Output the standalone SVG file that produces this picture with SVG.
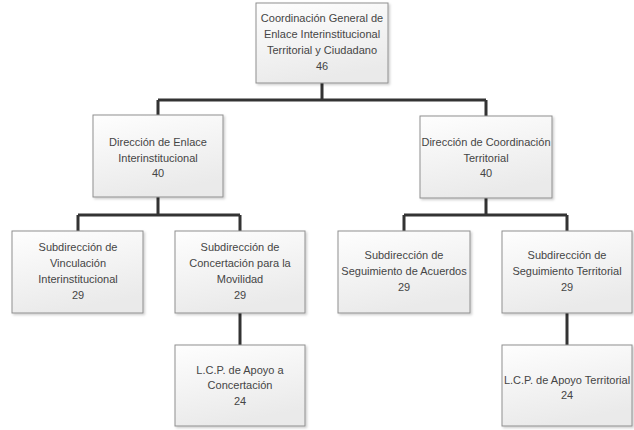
<svg xmlns="http://www.w3.org/2000/svg" width="634" height="430" viewBox="0 0 634 430">
<defs>
<linearGradient id="g" x1="0" y1="0" x2="0.3" y2="1">
<stop offset="0" stop-color="#fefefe"/>
<stop offset="1" stop-color="#eaeaea"/>
</linearGradient>
<filter id="sh" x="-10%" y="-10%" width="130%" height="130%">
<feDropShadow dx="1.5" dy="1.5" stdDeviation="1" flood-color="#000" flood-opacity="0.2"/>
</filter>
</defs>
<style>
.box{fill:url(#g);stroke:#8f8f8f;stroke-width:1;filter:url(#sh)}
.t{font-family:"Liberation Sans",Arial,sans-serif;font-size:11px;fill:#454545;text-anchor:middle}
.c{fill:none;stroke:#333;stroke-width:3}
</style>
<rect width="634" height="430" fill="#fff"/>
<g id="connectors">
<path class="c" d="M322 83 V100 M158 100 H486 M158 100 V115 M486 100 V116"/>
<path class="c" d="M158 197 V215 M78 215 H240 M78 215 V231 M240 215 V231"/>
<path class="c" d="M486 198 V215 M404 215 H567 M404 215 V231 M567 215 V231"/>
<path class="c" d="M240 313 V345"/>
<path class="c" d="M567 313 V345"/>
</g>
<g id="n1">
<rect class="box" x="256" y="3" width="132" height="80"/>
<text class="t" x="322" y="22">Coordinación General de</text>
<text class="t" x="322" y="38">Enlace Interinstitucional</text>
<text class="t" x="322" y="54">Territorial y Ciudadano</text>
<text class="t" x="322" y="70">46</text>
</g>
<g id="n2">
<rect class="box" x="93" y="115" width="130" height="82"/>
<text class="t" x="158" y="146">Dirección de Enlace</text>
<text class="t" x="158" y="162">Interinstitucional</text>
<text class="t" x="158" y="177">40</text>
</g>
<g id="n3">
<rect class="box" x="420" y="116" width="132" height="82"/>
<text class="t" x="486" y="146">Dirección de Coordinación</text>
<text class="t" x="486" y="162">Territorial</text>
<text class="t" x="486" y="177">40</text>
</g>
<g id="n4">
<rect class="box" x="12" y="231" width="131" height="82"/>
<text class="t" x="78" y="251">Subdirección de</text>
<text class="t" x="78" y="267">Vinculación</text>
<text class="t" x="78" y="283">Interinstitucional</text>
<text class="t" x="78" y="299">29</text>
</g>
<g id="n5">
<rect class="box" x="175" y="231" width="130" height="82"/>
<text class="t" x="240" y="251">Subdirección de</text>
<text class="t" x="240" y="267">Concertación para la</text>
<text class="t" x="240" y="283">Movilidad</text>
<text class="t" x="240" y="299">29</text>
</g>
<g id="n6">
<rect class="box" x="338" y="231" width="132" height="82"/>
<text class="t" x="404" y="259">Subdirección de</text>
<text class="t" x="404" y="275">Seguimiento de Acuerdos</text>
<text class="t" x="404" y="291">29</text>
</g>
<g id="n7">
<rect class="box" x="502" y="231" width="130" height="82"/>
<text class="t" x="567" y="259">Subdirección de</text>
<text class="t" x="567" y="275">Seguimiento Territorial</text>
<text class="t" x="567" y="291">29</text>
</g>
<g id="n8">
<rect class="box" x="175" y="345" width="130" height="81"/>
<text class="t" x="240" y="374">L.C.P. de Apoyo a</text>
<text class="t" x="240" y="389">Concertación</text>
<text class="t" x="240" y="405">24</text>
</g>
<g id="n9">
<rect class="box" x="502" y="345" width="130" height="81"/>
<text class="t" x="567" y="384">L.C.P. de Apoyo Territorial</text>
<text class="t" x="567" y="399">24</text>
</g>
</svg>
